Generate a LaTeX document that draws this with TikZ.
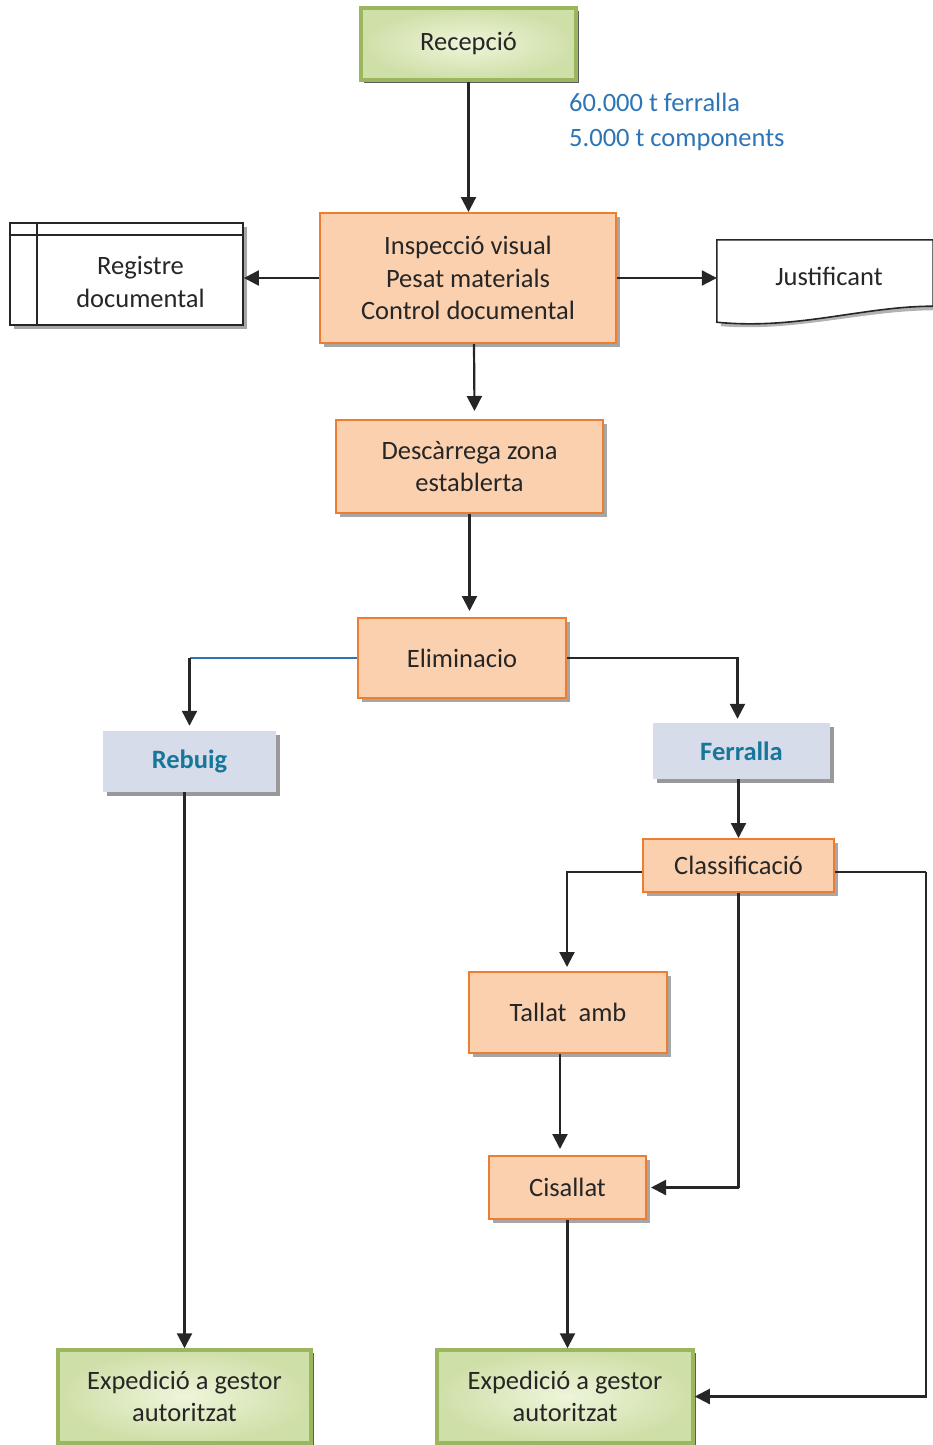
\documentclass[tikz,border=0pt]{standalone}
\usepackage{fontspec}
\setmainfont{Carlito}
\usetikzlibrary{arrows.meta,shadows,calc}
\definecolor{peach}{HTML}{FBD0AF}
\definecolor{orng}{HTML}{ED7D31}
\definecolor{grlight}{HTML}{EEF5DA}
\definecolor{grmid}{HTML}{CFDFA8}
\definecolor{grborder}{HTML}{9AB760}
\definecolor{bluegray}{HTML}{D6DCEA}
\definecolor{tealtxt}{HTML}{17779A}
\definecolor{annot}{HTML}{2E75B6}
\definecolor{linkblue}{HTML}{2E75B6}
\definecolor{ink}{HTML}{262626}
\begin{document}
\begin{tikzpicture}[x=1pt,y=-1pt,
  every node/.style={font=\fontsize{26.5}{32.5}\selectfont, text=ink, inner sep=0pt},
  proc/.style={draw=orng, line width=2pt, fill=peach, align=center,
    drop shadow={shadow xshift=4pt,shadow yshift=-4pt,opacity=0.35,fill=black}},
  catbox/.style={fill=bluegray, font=\fontsize{26.5}{32.5}\selectfont\bfseries, text=tealtxt,
    drop shadow={shadow xshift=4pt,shadow yshift=-4pt,opacity=0.4,fill=black}},
  term/.style={draw=grborder, line width=3.5pt, inner color=grlight, outer color=grmid, align=center,
    drop shadow={shadow xshift=3pt,shadow yshift=-3pt,opacity=0.75,fill=black!85}},
  arr/.style={-{Triangle[length=15pt,width=15pt]}, line width=2.2pt, draw=ink},
  ln/.style={line width=2.2pt, draw=ink}]
\useasboundingbox (0,0) rectangle (933,1445);
\clip (0,0) rectangle (933,1445);

% nodes
\node[term, minimum width=215, minimum height=72] (rec) at (468.5,44) {Recepció};
\node[align=left, anchor=west, text=annot] (ann) at (569,122) {60.000 t ferralla\\[3pt]5.000 t components};
\node[proc, minimum width=296, minimum height=130] (insp) at (468,278) {Inspecció visual\\Pesat materials\\Control documental};

\node[draw=ink, line width=1.8pt, fill=white, minimum width=233, minimum height=102,
  drop shadow={shadow xshift=4pt,shadow yshift=-4pt,opacity=0.35,fill=black}] (reg) at (126.5,274) {};
\draw[ln, line width=1.6pt] (reg.north west) ++(28,0) -- ++(0,102);
\draw[ln, line width=1.6pt] (reg.north west) ++(0,13) -- ++(233,0);
\node[align=center] (regt) at (140.5,282) {Registre\\documental};

\node[minimum width=216, minimum height=88] (justif) at (825,284) {};
\fill[black, opacity=0.3] ($(justif.north west)+(4,4)$) -- ($(justif.north east)+(4,4)$) -- ($(justif.south east)+(4,-18)$)
   .. controls ($(justif.south east)+(-70,-18)$) and ($(justif.south west)+(80,4)$) .. ($(justif.south west)+(4,-2)$) -- cycle;
\filldraw[ln, line width=1.6pt, fill=white] (justif.north west) -- (justif.north east) -- ($(justif.south east)+(0,-22)$)
   .. controls ($(justif.south east)+(-70,-22)$) and ($(justif.south west)+(80,2)$) .. ($(justif.south west)+(0,-6)$) -- cycle;
\node (justt) at (829,276) {Justificant};

\node[proc, minimum width=267, minimum height=93] (desc) at (469.5,466.5) {Descàrrega zona\\establerta};
\node[proc, minimum width=208, minimum height=80] (elim) at (462,658) {Eliminacio};
\node[catbox, minimum width=173, minimum height=61] (reb) at (189.5,761.5) {Rebuig};
\node[catbox, minimum width=177, minimum height=56] (ferr) at (741.5,751) {Ferralla};
\node[proc, minimum width=191, minimum height=53] (cls) at (738.5,865.5) {Classificació};
\node[proc, minimum width=198, minimum height=81] (tal) at (568,1012.5) {Tallat~~amb};
\node[proc, minimum width=157, minimum height=63] (cis) at (567.5,1187.5) {Cisallat};
\node[term, minimum width=253, minimum height=93] (exp1) at (184.5,1396.5) {Expedició a gestor\\autoritzat};
\node[term, minimum width=256, minimum height=93] (exp2) at (565,1396.5) {Expedició a gestor\\autoritzat};

% connectors
\draw[arr] (rec.south) -- (rec.south |- insp.north);
\draw[arr] (insp.west) -- (insp.west -| reg.east);
\draw[arr] (insp.east) -- (insp.east -| justif.west);
\draw[arr] ($(insp.south)+(6,0)$) -- ($(desc.north)+(5,-8)$);
\draw[arr] (desc.south) -- ($(desc.south |- elim.north)+(0,-6)$);
\draw[line width=2.2pt, draw=linkblue] (elim.west) -- (elim.west -| reb.north);
\draw[arr] (elim.west -| reb.north) -- ($(reb.north)+(0,-5)$);
\draw[arr] (elim.east) -| ($(ferr.north)+(-4,-4)$);
\draw[arr] (ferr.south -| cls.north) -- (cls.north);
\draw[arr] ($(cls.west)+(0,6.5)$) -| ($(tal.north)+(-1,-4)$);
\draw[ln] (cls.south) -- (cls.south |- cis.east) coordinate (cj);
\draw[arr] (cj) -- ($(cis.east)+(4,0)$);
\draw[ln] ($(cls.east)+(0,6.5)$) -- ++(91,0) coordinate (cr);
\draw[arr] (cr) |- (exp2.east);
\draw[arr] ($(tal.south)+(-8,0)$) -- ($(cis.north)+(-7.5,-6)$);
\draw[arr] (cis.south) -- (cis.south |- exp2.north);
\draw[arr] (exp1.north |- reb.south) -- (exp1.north);
\end{tikzpicture}
\end{document}
